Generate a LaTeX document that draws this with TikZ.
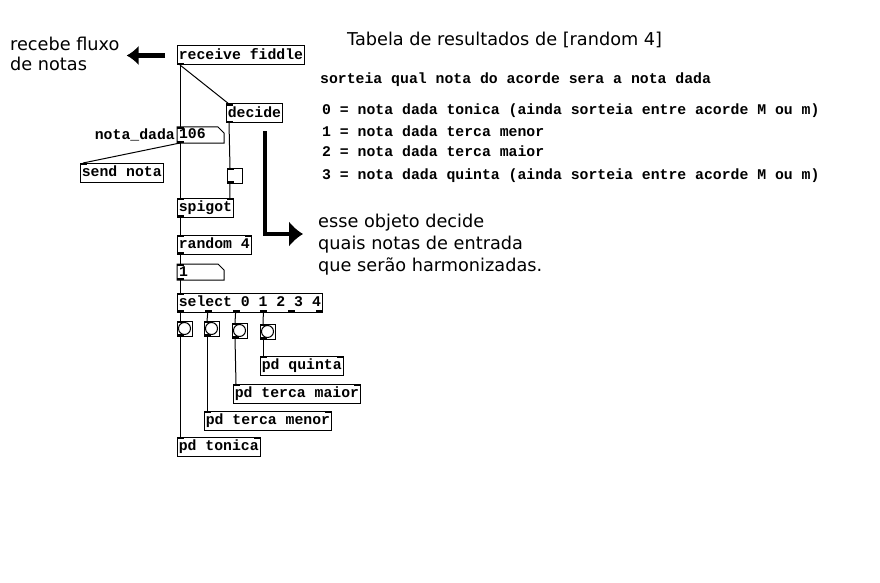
\documentclass[tikz,border=0pt]{standalone}
\usepackage{fontspec}
\setmainfont{DejaVu Sans}
\newfontfamily\monofont{Liberation Mono}
\usetikzlibrary{arrows.meta,positioning}
\newcommand{\pdfnt}{\monofont\bfseries\fontsize{14.8}{16}\selectfont}
\newcommand{\notefnt}{\fontsize{17.7}{20}\selectfont}
\tikzset{
  obj/.style={
    draw,
    line width=1pt,
    anchor=north west,
    outer sep=0pt,
    inner xsep=1.8pt,
    inner ysep=2.5pt,
    text height=11pt,
    text depth=3pt,
    font=\pdfnt
  },
  numbox/.style={obj, draw=none, text width=43pt, align=left, inner xsep=2pt, inner ysep=2pt, text height=10pt, text depth=2pt},
  bng/.style={draw, line width=1pt, anchor=north west, outer sep=0pt, minimum size=15pt, inner sep=0pt},
  cord/.style={line width=1pt},
  note/.style={font=\notefnt, anchor=base west, inner sep=0pt},
  comment/.style={font=\pdfnt, anchor=base west, inner sep=0pt},
  bigarrow/.style={line width=4.5pt, -{Latex[length=14pt,width=26pt]}}
}

\begin{document}
\begin{tikzpicture}[x=1pt,y=-1pt]
    \fill[white] (0,0) rectangle (880,583);
    \useasboundingbox (0,0) rectangle (880,583);
    % patch objects
    \node[obj] (recv) at (177,46) {receive fiddle};
    \node[obj] (decide) at (226,104) {decide};
    \node[numbox] (nota) at (177,127) {106};
    \node[font=\pdfnt, inner sep=0pt, left=2pt of nota] (notalbl) {nota\_dada};
    \node[obj] (send) at (80,163) {send nota};
    \node[bng] (tgl) at (227,168) {};
    \node[obj] (spigot) at (177,198) {spigot};
    \node[obj] (rnd) at (177,235) {random 4};
    \node[numbox] (num1) at (177,264) {1};
    \node[obj] (sel) at (177,293) {select 0 1 2 3 4};
    \node[bng] (b0) at (177,321) {};
    \node[bng] (b1) at (204,321) {};
    \node[bng] (b2) at (232,323) {};
    \node[bng] (b3) at (260,324) {};
    \node[obj] (pq) at (260,356) {pd quinta};
    \node[obj] (pmaior) at (233,384) {pd terca maior};
    \node[obj] (pmenor) at (204,411) {pd terca menor};
    \node[obj] (ptonica) at (177,437) {pd tonica};
    % number boxes, bangs, inlets and outlets
    \foreach \n in {nota,num1}
      \draw[line width=1pt] (\n.north west) -- ([xshift=-6]\n.north east) -- ([yshift=-6]\n.north east) -- (\n.south east) -- (\n.south west) -- cycle;
    \foreach \b in {b0,b1,b2,b3}
      \draw[line width=1pt] (\b.center) circle (6);
    \foreach \n in {decide,nota,send,tgl,spigot,rnd,num1,sel,b0,b1,b2,b3,pq,pmaior,pmenor,ptonica}
      \fill (\n.north west) rectangle ++(7,2);
    \foreach \n in {spigot,rnd,pq,pmaior,pmenor,ptonica}
      \fill (\n.north east) rectangle ++(-7,2);
    \foreach \n in {recv,decide,nota,tgl,spigot,rnd,num1,b0,b1,b2,b3}
      \fill (\n.south west) rectangle ++(7,-2);
    \foreach \i in {0,...,5}
      \fill ([xshift=\i*27.8]sel.south west) rectangle ++(7,-2);
    % connections
    \draw[cord] ([xshift=3]recv.south west) -- ([xshift=3]nota.north west);
    \draw[cord] ([xshift=3]recv.south west) -- ([xshift=3]decide.north west);
    \draw[cord] ([xshift=3]decide.south west) -- ([xshift=3]tgl.north west);
    \draw[cord] ([xshift=3]nota.south west) -- ([xshift=3]send.north west);
    \draw[cord] ([xshift=3]nota.south west) -- ([xshift=3]spigot.north west);
    \draw[cord] ([xshift=3]tgl.south west) -- ([xshift=-4]spigot.north east);
    \draw[cord] ([xshift=3]spigot.south west) -- ([xshift=3]rnd.north west);
    \draw[cord] ([xshift=3]rnd.south west) -- ([xshift=3]num1.north west);
    \draw[cord] ([xshift=3]num1.south west) -- ([xshift=3]sel.north west);
    \foreach \b [count=\i from 0] in {b0,b1,b2,b3}
      \draw[cord] ([xshift=3+\i*27.8]sel.south west) -- ([xshift=3]\b.north west);
    \draw[cord] ([xshift=3]b0.south west) -- ([xshift=3]ptonica.north west);
    \draw[cord] ([xshift=3]b1.south west) -- ([xshift=3]pmenor.north west);
    \draw[cord] ([xshift=3]b2.south west) -- ([xshift=3]pmaior.north west);
    \draw[cord] ([xshift=3]b3.south west) -- ([xshift=3]pq.north west);
    % notes
    \node[note] (fluxo1) at (10,51) {recebe fluxo};
    \node[note] (fluxo2) at (10,71) {de notas};
    \node[note] (title) at (347,46) {Tabela de resultados de [random 4]};
    \node[comment] (sorteia) at (320,84) {sorteia qual nota do acorde sera a nota dada};
    \node[comment] (res0) at (322,115) {0 = nota dada tonica (ainda sorteia entre acorde M ou m)};
    \node[comment] (res1) at (322,136) {1 = nota dada terca menor};
    \node[comment] (res2) at (322,156) {2 = nota dada terca maior};
    \node[comment] (res3) at (322,179) {3 = nota dada quinta (ainda sorteia entre acorde M ou m)};
    \node[note] (esse1) at (318,227) {esse objeto decide};
    \node[note] (esse2) at (318,249) {quais notas de entrada};
    \node[note] (esse3) at (318,271) {que serão harmonizadas.};
    \draw[bigarrow, -{Latex[length=12pt,width=20pt]}] ([xshift=-12]recv.west) -- ([xshift=7]fluxo1.east |- recv.west);
    \draw[bigarrow] ([xshift=-18,yshift=-8]decide.south east) |- ([xshift=-15,yshift=-7]esse1.base west);
\end{tikzpicture}
\end{document}
